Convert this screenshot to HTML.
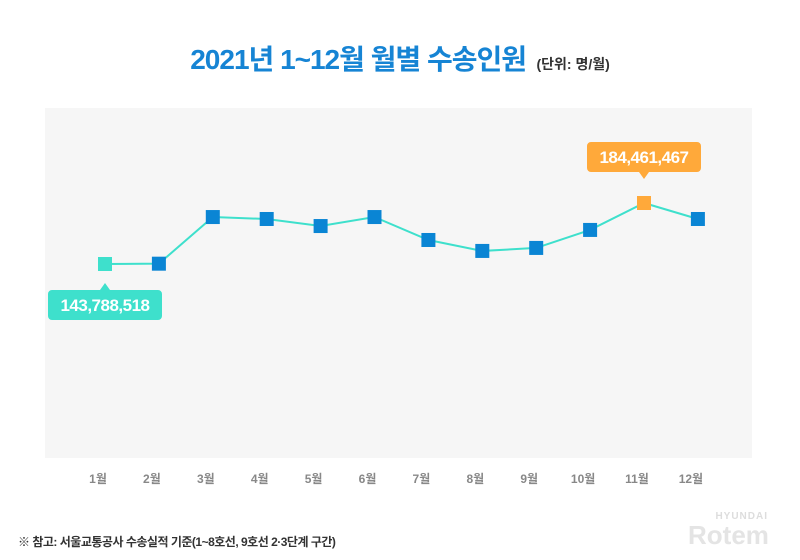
<!DOCTYPE html>
<html><head><meta charset="utf-8"><style>
body{margin:0;width:800px;height:560px;background:#fff;font-family:"Liberation Sans","Noto Sans CJK KR",sans-serif;overflow:hidden;position:relative}
.t{position:absolute}
</style></head><body>
<div class="t" style="left:0;top:38px;width:800px;text-align:center;white-space:nowrap">
<span style="font-size:28px;font-weight:bold;color:#1684d4;letter-spacing:-1px">2021년 1~12월 월별 수송인원</span>
<span style="font-size:14px;font-weight:bold;color:#333;margin-left:6px">(단위: 명/월)</span></div>
<svg class="t" style="left:0;top:0" width="800" height="560" id="chart">
<rect x="45" y="108" width="707" height="350" fill="#f6f6f6"/>
<g id="marks"></g>
</svg>
<div class="t" style="left:18px;top:533px;font-size:12px;color:#333;font-weight:bold;letter-spacing:-0.5px">※ 참고: 서울교통공사 수송실적 기준(1~8호선, 9호선 2·3단계 구간)</div>
<div class="t" style="left:688px;top:512px;color:#ddd;text-align:right;width:80px;line-height:1">
<div style="font-size:10px;font-weight:bold;letter-spacing:1px">HYUNDAI</div>
<div style="font-size:26px;font-weight:bold;color:#e4e4e4">Rotem</div></div>
<script>
const categories=["1월","2월","3월","4월","5월","6월","7월","8월","9월","10월","11월","12월"];
const values=[143788518,144000000,175100000,173800000,169100000,175100000,159800000,152500000,154500000,166500000,184461467,173800000];
const labels=["143,788,518","184,461,467"];
const NS="http://www.w3.org/2000/svg";
const g=document.getElementById("marks");
function xS(i){return 105+i*53.9;}
function yS(v){return 264-(v-143788518)*61/(184461467-143788518);}
function mk(t,a){const e=document.createElementNS(NS,t);for(const k in a)e.setAttribute(k,a[k]);g.appendChild(e);return e;}
const pts=values.map((v,i)=>xS(i)+","+yS(v)).join(" ");
const line=mk("polyline",{points:pts,fill:"none",stroke:"#3ee0cc","stroke-width":2});


let maxI=values.indexOf(Math.max(...values)),minI=values.indexOf(Math.min(...values));
values.forEach((v,i)=>{
 const c=i===maxI?"#ffa93a":(i===minI?"#3ee0cc":"#0a85d4");
 const r=mk("rect",{x:xS(i)-7,y:yS(v)-7,width:14,height:14,fill:c});
 
 
 const tx=mk("text",{x:xS(i)-7,y:483,"text-anchor":"middle","font-size":12,fill:"#888","font-weight":"bold"});
 tx.textContent=categories[i];
 
 
});
let x=xS(minI),y=yS(values[minI]);
let b=mk("path",{d:`M${x-53} ${y+26} h106 a4 4 0 0 1 4 4 v22 a4 4 0 0 1 -4 4 h-106 a4 4 0 0 1 -4 -4 v-22 a4 4 0 0 1 4 -4 z M${x-5} ${y+26} L${x} ${y+19} L${x+5} ${y+26}z`,fill:"#3ee0cc"});


let t=mk("text",{x:x,y:y+47,"text-anchor":"middle","font-size":17,fill:"#fff","font-weight":"bold","letter-spacing":"-0.5"});
t.textContent=labels[0];


x=xS(maxI);y=yS(values[maxI]);
b=mk("path",{d:`M${x-53} ${y-61} h106 a4 4 0 0 1 4 4 v22 a4 4 0 0 1 -4 4 h-106 a4 4 0 0 1 -4 -4 v-22 a4 4 0 0 1 4 -4 z M${x-5} ${y-31} L${x} ${y-24} L${x+5} ${y-31}z`,fill:"#ffa93a"});


t=mk("text",{x:x,y:y-40,"text-anchor":"middle","font-size":17,fill:"#fff","font-weight":"bold","letter-spacing":"-0.5"});
t.textContent=labels[1];


</script>
</body></html>
